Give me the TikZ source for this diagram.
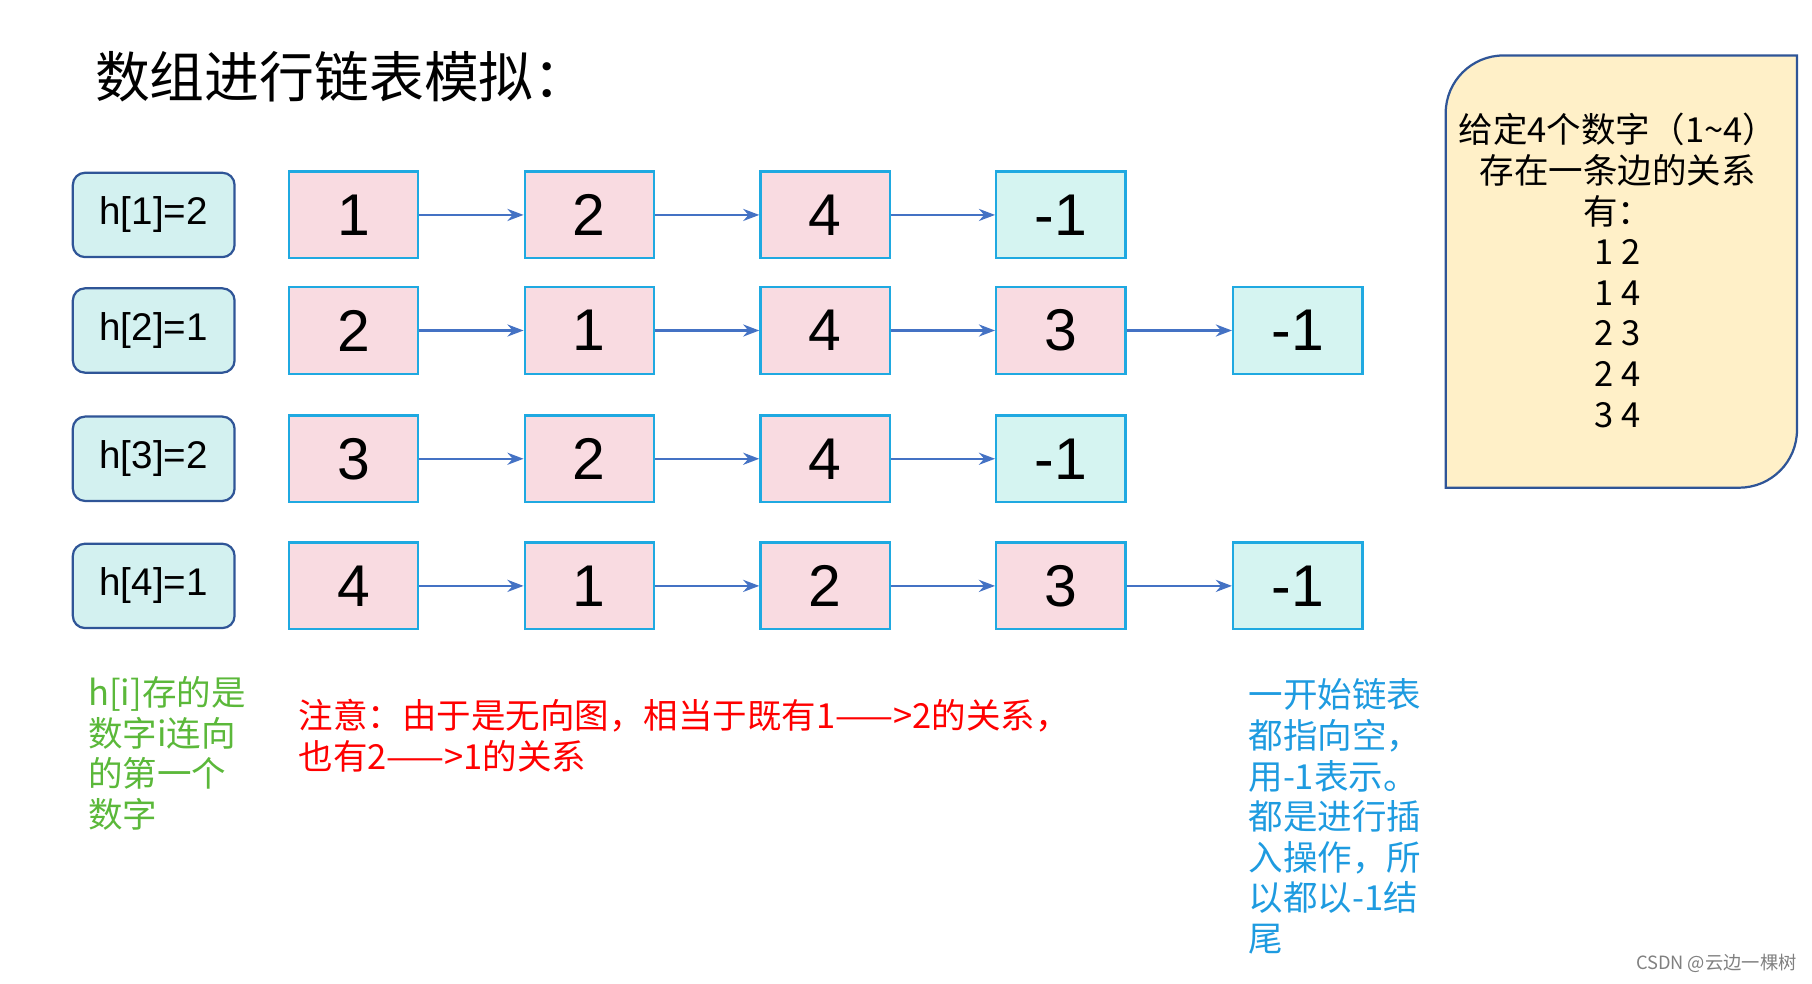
\documentclass[tikz,border=0pt]{standalone}
\usepackage{fontspec}
\setmainfont{Liberation Sans}
\newfontfamily\cjk{Noto Sans CJK SC}
\usetikzlibrary{arrows.meta,positioning}
\definecolor{cellpink}{HTML}{F9DBE1}
\definecolor{cellnil}{HTML}{D5F4F1}
\definecolor{cellline}{HTML}{1FA9E1}
\definecolor{headfill}{HTML}{D3F1F0}
\definecolor{headline}{HTML}{2F5597}
\definecolor{arrowblue}{HTML}{4472C4}
\definecolor{notefill}{HTML}{FFF0C8}
\definecolor{notegreen}{HTML}{5BB83A}
\definecolor{noteblue}{HTML}{1E9BE0}

\begin{document}
\begin{tikzpicture}[
  x=0.02cm, y=-0.02cm,
  >=Stealth,
  cell/.style={draw=cellline, line width=1.1pt, fill=cellpink, minimum width=2.24cm,
    minimum height=1.5cm, inner sep=0pt, font=\fontsize{29}{29}\selectfont},
  nil/.style={cell, fill=cellnil},
  headbox/.style={draw=headline, line width=1.1pt, fill=headfill, rounded corners=6pt,
    minimum width=2.8cm, minimum height=1.46cm, inner sep=0pt, font=\fontsize{19}{19}\selectfont},
  link/.style={->, arrowblue, line width=1.1pt},
  note/.style={anchor=north west, align=left, inner sep=0pt, font=\cjk\fontsize{17}{20}\selectfont}
]
\useasboundingbox (0,0) rectangle (1568,851);

% --- title ---
\node[anchor=west, inner sep=0pt, font=\cjk\fontsize{27}{27}\selectfont] (title) at (82,66) {数组进行链表模拟：};

% --- heads ---
\foreach \r/\y/\h in {1/186/2, 2/286/1, 3/397/2, 4/507/1}
  \node[headbox] (h\r) at (133,\y) {h[\r]=\h};

% --- list cells ---
\foreach \r/\y/\vals in {1/186/{1,2,4}, 2/286/{2,1,4,3}, 3/397/{3,2,4}, 4/507/{4,1,2,3}} {
  \foreach \v [count=\c] in \vals {
    \node[cell] (n\r-\c) at ({306+204*(\c-1)},\y) {\v};
  }
}
\node[nil] (n1-4) at (918,186) {-1};
\node[nil] (n2-5) at (1123,286) {-1};
\node[nil] (n3-4) at (918,397) {-1};
\node[nil] (n4-5) at (1123,507) {-1};

% --- links ---
\foreach \r/\len in {1/4, 2/5, 3/4, 4/5} {
  \foreach \c in {2,...,\len} {
    \pgfmathtruncatemacro{\p}{\c-1}
    \draw[link] (n\r-\p) -- (n\r-\c);
  }
}

% --- edge list ---
\draw[headline, line width=1.1pt, fill=notefill]
  (1251,422) [rounded corners=1cm] -- (1251,48) [sharp corners] -- (1555,48)
  [rounded corners=1cm] -- (1555,422) [sharp corners] -- cycle;
\node[align=center, inner sep=0pt, font=\cjk\fontsize{17}{20}\selectfont] (edges) at (1400,234)
  {给定4个数字（1\textasciitilde 4）\\存在一条边的关系\\有：\\1 2\\1 4\\2 3\\2 4\\3 4};

% --- notes ---
\node[note, text=notegreen] (headnote) at (76,585) {h[i]存的是\\数字i连向\\的第一个\\数字};
\node[note, text=red] (undirected) at (258,605) {注意：由于是无向图，相当于既有1——>2的关系，\\也有2——>1的关系};
\node[note, text=noteblue] (nilnote) at (1080,587) {一开始链表\\都指向空，\\用-1表示。\\都是进行插\\入操作，所\\以都以-1结\\尾};
\node[anchor=east, inner sep=0pt, text=gray, font=\cjk\fontsize{9}{9}\selectfont] (mark) at (1555,834) {CSDN @云边一棵树};
\end{tikzpicture}
\end{document}
